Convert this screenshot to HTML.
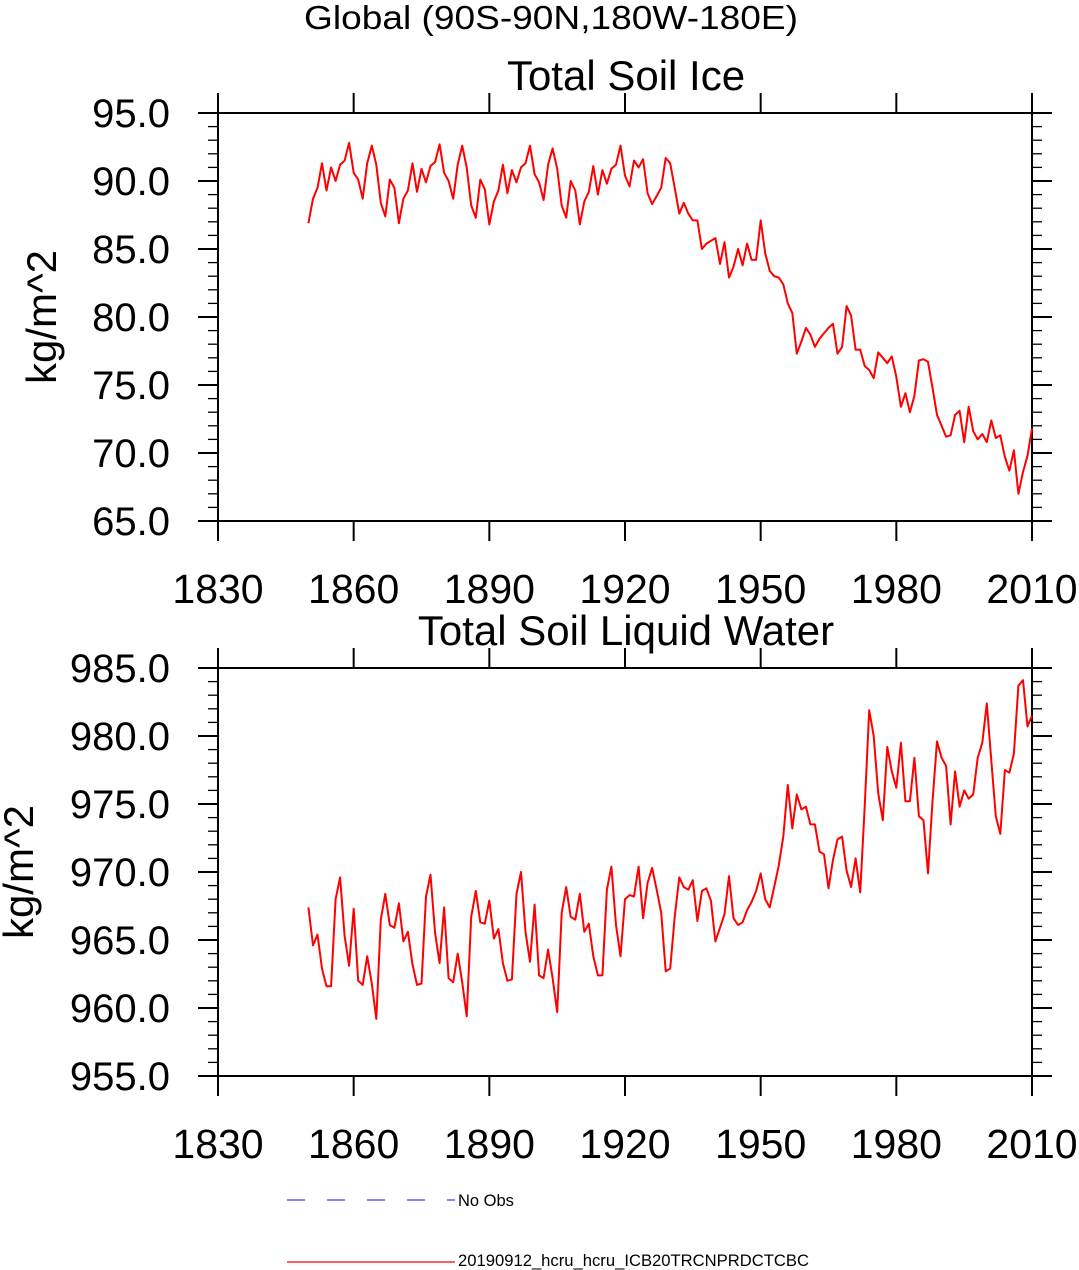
<!DOCTYPE html>
<html><head><meta charset="utf-8"><style>
html,body{margin:0;padding:0;background:#fff;}
svg{display:block;font-family:"Liberation Sans",Arial,sans-serif;}
</style></head><body>
<svg id="chart" width="1079" height="1270" viewBox="0 0 1079 1270" xmlns="http://www.w3.org/2000/svg">
<text x="551" y="29" font-size="33" text-anchor="middle" textLength="494" lengthAdjust="spacingAndGlyphs">Global (90S-90N,180W-180E)</text>
<g id="p1"></g>
<g id="p2"></g>
<g>
<line x1="287" y1="1200" x2="455" y2="1200" stroke="#3a3aff" stroke-width="1.3" stroke-dasharray="18,22"/>
<text x="458" y="1206" font-size="16.5">No Obs</text>
<line x1="287" y1="1262" x2="455" y2="1262" stroke="#f00" stroke-width="1.3"/>
<text x="458" y="1266" font-size="16.5" textLength="351" lengthAdjust="spacingAndGlyphs">20190912_hcru_hcru_ICB20TRCNPRDCTCBC</text>
</g>
</svg>
<script>
const startYear = 1850;
const xTicks = [1830,1860,1890,1920,1950,1980,2010];
const iceTicks = ["65.0","70.0","75.0","80.0","85.0","90.0","95.0"];
const liqTicks = ["955.0","960.0","965.0","970.0","975.0","980.0","985.0"];
const iceValues = [86.9,88.7,89.5,91.3,89.3,91.0,90.0,91.2,91.5,92.8,90.6,90.1,88.7,91.3,92.6,91.2,88.4,87.4,90.1,89.5,
86.9,88.7,89.3,91.3,89.2,90.9,89.9,91.1,91.4,92.7,90.6,90.0,88.7,91.2,92.6,91.0,88.2,87.3,90.1,89.4,
86.8,88.5,89.3,91.2,89.1,90.8,89.9,91.0,91.3,92.6,90.5,89.9,88.6,91.2,92.4,90.9,88.2,87.3,90.0,89.3,
86.8,88.5,89.2,91.1,89.0,90.8,89.8,90.9,91.2,92.6,90.4,89.6,91.5,91.0,91.6,89.1,88.3,88.9,89.5,91.7,
91.3,89.5,87.6,88.4,87.6,87.1,87.1,85.0,85.4,85.6,85.8,83.9,85.5,82.9,83.7,85.0,83.8,85.4,84.2,84.2,
87.1,84.7,83.4,83.0,82.9,82.4,81.0,80.3,77.3,78.2,79.2,78.7,77.8,78.4,78.8,79.2,79.5,77.3,77.8,80.8,
80.1,77.6,77.6,76.4,76.1,75.5,77.4,77.0,76.6,77.1,75.6,73.4,74.4,73.0,74.2,76.8,76.9,76.7,74.8,72.8,
72.0,71.2,71.3,72.8,73.1,70.8,73.4,71.6,71.0,71.4,70.8,72.4,71.1,71.3,69.7,68.7,70.2,67.0,68.6,69.8,71.8];
const liqValues = [967.4,964.6,965.4,962.9,961.6,961.6,968.0,969.6,965.3,963.1,967.3,962.0,961.7,963.8,961.8,959.2,966.5,968.4,966.1,965.9,
967.7,964.9,965.6,963.2,961.7,961.8,968.2,969.8,965.5,963.3,967.4,962.2,961.9,964.0,961.9,959.4,966.7,968.6,966.3,966.2,
967.9,965.1,965.8,963.3,962.0,962.1,968.4,970.0,965.6,963.4,967.6,962.4,962.2,964.3,962.2,959.7,967.0,968.9,966.7,966.5,
968.4,965.6,966.2,963.8,962.4,962.4,968.7,970.4,966.1,963.8,968.0,968.3,968.2,970.4,966.6,969.2,970.3,968.7,967.0,962.7,
962.9,966.7,969.6,968.9,968.7,969.4,966.4,968.6,968.8,967.9,964.9,965.9,966.9,969.7,966.6,966.1,966.3,967.2,967.8,968.6,
969.9,968.0,967.4,968.9,970.5,972.6,976.4,973.2,975.7,974.6,974.8,973.5,973.5,971.5,971.3,968.8,970.9,972.4,972.6,970.1,
968.9,971.0,968.5,974.8,981.9,980.0,975.8,973.8,979.2,977.4,976.2,979.5,975.2,975.2,978.4,974.1,973.8,969.9,975.2,979.6,
978.4,977.8,973.5,977.4,974.8,976.0,975.4,975.7,978.4,979.5,982.4,978.2,974.1,972.8,977.5,977.3,978.7,983.7,984.1,980.7,981.5];

const NS="http://www.w3.org/2000/svg";
function mk(parent,tag,attrs){const e=document.createElementNS(NS,tag);for(const k in attrs)e.setAttribute(k,attrs[k]);parent.appendChild(e);return e;}
const X0=218,X1=1032;
function xScale(yr){return X0+(yr-1830)/(2010-1830)*(X1-X0);}

function panel(g,top,bottom,ymin,ymax,yLabels,values,title,key,ytX){
  const yS=v=>bottom-(v-ymin)/(ymax-ymin)*(bottom-top);
  const fr=mk(g,'rect',{x:X0,y:top,width:X1-X0,height:bottom-top,fill:'none',stroke:'#000','stroke-width':2});
  
  
  for(let v=ymin;v<=ymax+1e-6;v+=1){
    const y=yS(v); const major=Math.abs((v-ymin)%5)<1e-6; const L=major?20:10;
    const t1=mk(g,'line',{x1:X0-L,y1:y,x2:X0,y2:y,stroke:'#000','stroke-width':major?2:1.3});
    
    
    const t2=mk(g,'line',{x1:X1,y1:y,x2:X1+L,y2:y,stroke:'#000','stroke-width':major?2:1.3});
    
    
  }
  yLabels.forEach((lab,i)=>{
    const v=ymin+i*5;
    const t=mk(g,'text',{x:170,y:yS(v)+14,'font-size':40,'text-anchor':'end'});
    t.textContent=lab;
    
    
  });
  xTicks.forEach(yr=>{
    const x=xScale(yr);
    const a=mk(g,'line',{x1:x,y1:bottom,x2:x,y2:bottom+20,stroke:'#000','stroke-width':2});
    
    
    const b=mk(g,'line',{x1:x,y1:top-20,x2:x,y2:top,stroke:'#000','stroke-width':2});
    
    
    const t=mk(g,'text',{x:x,y:bottom+82,'font-size':41,'text-anchor':'middle'});
    t.textContent=String(yr);
    
    
  });
  const tt=mk(g,'text',{x:626,y:top-23,'font-size':42,'text-anchor':'middle'});
  tt.textContent=title;
  
  
  const cy=(top+bottom)/2;
  const yt=mk(g,'text',{x:0,y:0,'font-size':42,'text-anchor':'middle',transform:`translate(${ytX},${cy}) rotate(-90)`});
  yt.textContent='kg/m^2';
  
  
  const pts=values.map((v,i)=>xScale(startYear+i).toFixed(1)+','+yS(v).toFixed(1)).join(' ');
  const pl=mk(g,'polyline',{points:pts,fill:'none',stroke:'#f00','stroke-width':2,'stroke-linejoin':'round'});
  
  
}
panel(document.getElementById('p1'),113,521,65,95,iceTicks,iceValues,'Total Soil Ice','ice',56);
panel(document.getElementById('p2'),668,1076,955,985,liqTicks,liqValues,'Total Soil Liquid Water','liquid',33);
</script>
</body></html>
